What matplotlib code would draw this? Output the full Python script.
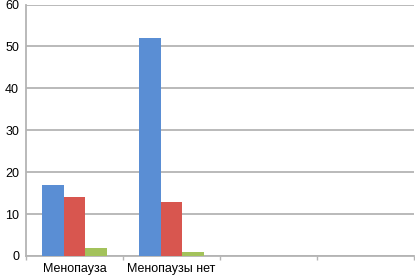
import numpy as np
import matplotlib.pyplot as plt

categories = ["Менопауза", "Менопаузы нет", "", ""]
series_1 = [17, 52, 0, 0]
series_2 = [14, 13, 0, 0]
series_3 = [2, 1, 0, 0]
y_ticks = [0, 10, 20, 30, 40, 50, 60]

plt.rcParams['font.family'] = ['Liberation Sans', 'DejaVu Sans']

fig = plt.figure(figsize=(4.15, 2.79), dpi=100)
ax = fig.add_axes([26 / 415, 23 / 279, 388 / 415, 251.5 / 279])

x = np.arange(len(categories))
w = 0.22
colors = ["#5A8ED4", "#D8564F", "#A3C25B"]
for k, vals in enumerate([series_1, series_2, series_3]):
    ax.bar(x + (k - 1) * w, vals, width=w, color=colors[k], zorder=3)

ax.set_xlim(-0.5, len(categories) - 0.5)
ax.set_ylim(0, 60)
ax.set_yticks(y_ticks)
ax.yaxis.grid(True, color="#B4B4B4", linewidth=1.3, zorder=0)
ax.tick_params(axis='y', length=0, labelsize=9, pad=5)

ax.set_xticks(x)
ax.set_xticklabels(categories)
ax.set_xticks(np.arange(len(categories) + 1) - 0.5, minor=True)
ax.tick_params(axis='x', which='major', length=0, labelsize=9, pad=5)
ax.tick_params(axis='x', which='minor', length=3, color="#B4B4B4", width=1)

for s in ['top', 'right']:
    ax.spines[s].set_visible(False)
for s in ['left', 'bottom']:
    ax.spines[s].set_color("#B4B4B4")
    ax.spines[s].set_linewidth(1.3)

fig.savefig("out.png", dpi=100)
